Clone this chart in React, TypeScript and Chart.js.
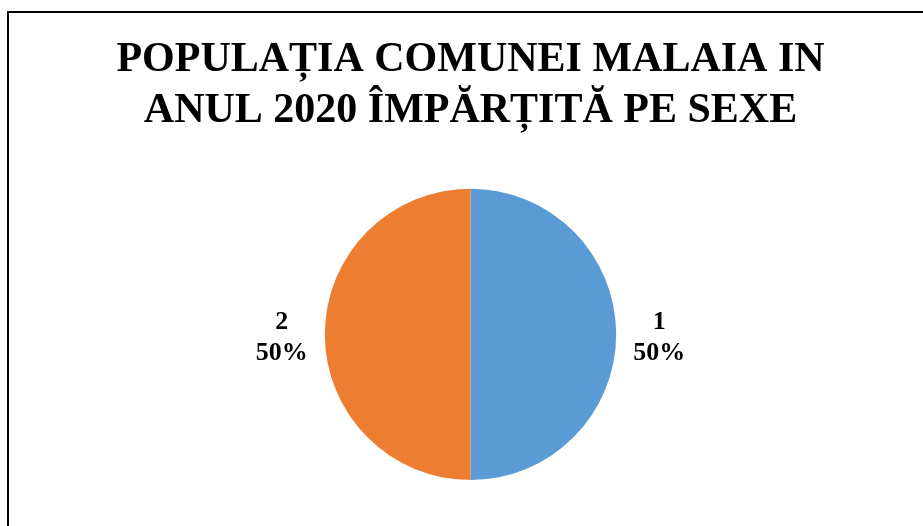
import React, { useEffect, useRef } from "react";
import { Chart, registerables } from "chart.js";

Chart.register(...registerables);

const titleLines = ["POPULAȚIA COMUNEI MALAIA IN", "ANUL 2020 ÎMPĂRȚITĂ PE SEXE"];
const categories = ["1", "2"];
const values = [50, 50];
const colors = ["#5B9BD5", "#ED7D31"];

const FONT = "'Liberation Serif', 'Times New Roman', serif";

const outsideLabels = {
  id: "outsideLabels",
  afterDatasetsDraw(chart: any) {
    const ctx = chart.ctx;
    const meta = chart.getDatasetMeta(0);
    const data = chart.data.datasets[0].data as number[];
    const total = data.reduce((a, b) => a + b, 0);
    ctx.save();
    ctx.font = `bold 26px ${FONT}`;
    ctx.fillStyle = "#000";
    ctx.textAlign = "center";
    ctx.textBaseline = "alphabetic";
    meta.data.forEach((arc: any, i: number) => {
      const { x, y, startAngle, endAngle, outerRadius } = arc.getProps(
        ["x", "y", "startAngle", "endAngle", "outerRadius"],
        true
      );
      const mid = (startAngle + endAngle) / 2;
      const r = outerRadius + 43;
      const lx = x + Math.cos(mid) * r;
      const ly = y + Math.sin(mid) * r;
      const pct = Math.round((data[i] / total) * 100) + "%";
      ctx.fillText(String(chart.data.labels[i]), lx, ly - 5);
      ctx.fillText(pct, lx, ly + 26);
    });
    ctx.restore();
  },
};

export default function App() {
  const ref = useRef<HTMLCanvasElement | null>(null);
  useEffect(() => {
    if (!ref.current) return;
    const chart = new Chart(ref.current, {
      type: "pie",
      data: {
        labels: categories,
        datasets: [
          {
            data: values,
            backgroundColor: colors,
            borderColor: colors,
            borderWidth: 0,
          },
        ],
      },
      options: {
        animation: false,
        responsive: false,
        maintainAspectRatio: false,
        layout: { padding: { left: 18, right: 0, top: 0, bottom: 46 } },
        plugins: {
          legend: { display: false },
          tooltip: { enabled: false },
          title: {
            display: true,
            text: titleLines,
            color: "#000",
            font: { family: FONT, size: 42, weight: "bold", lineHeight: 1.21 },
            padding: { top: 35, bottom: 52 },
          },
        },
      },
      plugins: [outsideLabels],
    });
    return () => chart.destroy();
  }, []);

  return (
    <div
      style={{
        position: "fixed",
        left: 0,
        top: 0,
        width: 923,
        height: 526,
        overflow: "hidden",
        background: "#fff",
      }}
    >
      <div
        style={{
          position: "absolute",
          left: 7,
          top: 11,
          width: 1000,
          height: 700,
          border: "2px solid #000",
          boxSizing: "border-box",
        }}
      />
      <canvas
        ref={ref}
        width={923}
        height={526}
        style={{ position: "absolute", left: 0, top: 0, width: 923, height: 526 }}
      />
    </div>
  );
}
